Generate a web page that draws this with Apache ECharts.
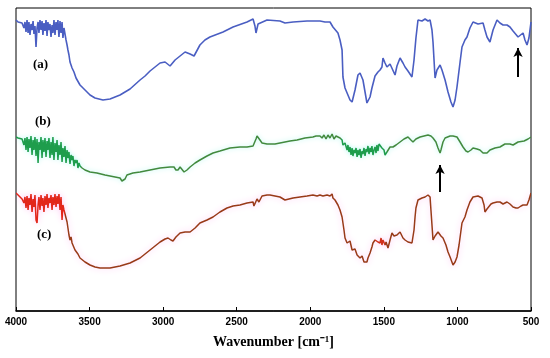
<!DOCTYPE html>
<html>
<head>
<meta charset="utf-8">
<script src="https://cdn.jsdelivr.net/npm/echarts@6/dist/echarts.min.js"></script>
<style>html,body{margin:0;padding:0;background:#fff}#c{width:550px;height:358px}</style>
</head>
<body>
<div id="c"></div>
<script>
// Wavenumber (cm-1) and offset transmittance (a.u.)
var wnA = [4000,3986,3973,3959,3946,3939,3932,3925,3918,3912,3905,3898,3891,3884,3878,3871,3864,3857,3850,3844,3837,3830,3823,3817,3810,3803,3796,3789,3783,3776,3769,3762,3755,3749,3742,3735,3728,3721,3715,3708,3701,3694,3687,3681,3674,3667,3660,3653,3647,3640,3633,3626,3619,3606,3592,3579,3565,3531,3497,3463,3409,3361,3293,3225,3157,3123,3089,3055,3021,2987,2953,2919,2885,2851,2817,2790,2777,2750,2716,2682,2593,2525,2430,2389,2376,2369,2355,2342,2294,2206,2172,2117,2022,1934,1900,1866,1846,1812,1798,1784,1778,1764,1730,1716,1696,1676,1662,1642,1615,1608,1594,1581,1560,1540,1526,1513,1506,1492,1479,1458,1445,1424,1411,1390,1370,1356,1336,1309,1295,1282,1268,1241,1220,1200,1186,1173,1166,1152,1139,1118,1105,1084,1064,1044,1030,1016,1003,982,969,949,935,915,894,881,860,847,826,813,799,779,758,731,711,690,663,643,622,609,588,575,554,541,527,514,500];
var tA = [291,289,287,288,283,289,279,291,278,289,276,287,281,290,277,285,264,283,289,278,291,281,290,276,288,280,291,275,289,281,287,274,286,278,291,276,289,281,291,274,290,278,289,273,283,281,271,266,261,256,249,251,243,239,233,231,226,221,216,213,211,212,216,222,231,235,240,244,248,249,245,251,255,259,257,255,254,266,271,274,279,284,289,292,285,278,287,289,291,290,288,289,290,290,289,289,284,278,271,261,234,223,211,209,221,236,238,231,208,206,214,223,235,239,241,244,253,248,244,247,249,236,245,253,248,244,240,234,251,273,291,290,292,290,291,281,269,233,241,246,241,231,219,209,204,211,224,249,264,271,274,283,289,291,287,286,288,281,274,269,281,291,288,286,286,284,280,278,274,274,278,271,266,273,289];

var wnB = [4000,3986,3973,3959,3946,3939,3932,3925,3918,3912,3905,3898,3891,3884,3878,3871,3864,3857,3850,3844,3837,3830,3823,3817,3810,3803,3796,3789,3783,3776,3769,3762,3755,3749,3742,3735,3728,3721,3715,3708,3701,3694,3687,3681,3674,3667,3660,3653,3647,3640,3633,3626,3619,3613,3606,3599,3592,3585,3579,3572,3565,3551,3531,3497,3450,3395,3361,3327,3293,3280,3273,3259,3246,3205,3157,3089,3021,2953,2926,2913,2899,2885,2872,2858,2851,2838,2817,2783,2750,2702,2661,2614,2546,2478,2430,2389,2376,2369,2362,2349,2342,2328,2315,2294,2240,2206,2138,2090,2036,1982,1961,1948,1934,1920,1907,1893,1880,1866,1852,1839,1825,1812,1798,1784,1778,1764,1750,1744,1737,1730,1723,1716,1710,1703,1696,1689,1682,1676,1669,1662,1655,1648,1642,1635,1628,1621,1615,1608,1601,1594,1587,1581,1574,1567,1560,1553,1547,1540,1533,1526,1513,1499,1492,1485,1479,1472,1458,1438,1417,1390,1363,1336,1316,1302,1282,1254,1227,1200,1180,1166,1146,1132,1118,1112,1098,1084,1071,1050,1030,1003,982,962,942,928,908,894,867,847,826,813,799,779,745,711,677,643,622,588,547,520,500];
var tB = [174,173,171,172,166,173,161,174,159,172,163,175,156,171,161,174,155,172,148,169,161,174,153,171,159,173,154,170,161,173,153,169,156,174,151,168,159,171,151,166,156,169,149,163,154,165,148,161,153,159,147,156,151,155,145,151,148,151,143,148,145,143,141,139,138,136,135,134,133,130,129,132,136,138,139,141,143,144,144,141,141,144,144,139,137,141,144,148,151,155,158,160,163,164,164,165,167,172,175,174,171,168,168,167,167,168,170,171,173,174,175,173,175,173,176,172,176,173,177,172,175,174,173,171,166,168,161,166,159,164,156,163,155,161,158,163,154,161,156,162,153,160,157,163,155,162,159,165,157,163,159,165,156,161,164,158,166,160,167,165,163,161,156,154,159,161,164,164,166,169,172,174,171,169,172,174,175,176,175,173,169,163,158,161,169,173,174,175,175,174,169,164,160,159,161,163,162,161,158,156,158,161,163,164,167,167,166,169,170,172,174];

var wnC = [4000,3986,3973,3959,3946,3939,3932,3925,3918,3912,3905,3898,3891,3884,3878,3871,3864,3857,3850,3844,3837,3830,3823,3817,3810,3803,3796,3789,3783,3776,3769,3762,3755,3749,3742,3735,3728,3721,3715,3708,3701,3694,3687,3681,3674,3667,3660,3653,3647,3640,3633,3626,3619,3613,3606,3599,3592,3579,3565,3531,3497,3463,3429,3361,3293,3225,3157,3089,3021,2987,2967,2947,2933,2913,2885,2851,2817,2783,2750,2702,2661,2614,2566,2525,2478,2430,2389,2383,2376,2362,2355,2349,2342,2328,2321,2294,2274,2240,2206,2172,2145,2117,2070,2022,1982,1954,1934,1914,1886,1866,1852,1846,1832,1812,1798,1784,1771,1764,1750,1744,1730,1716,1710,1696,1682,1662,1648,1635,1628,1615,1608,1594,1581,1574,1560,1547,1540,1526,1519,1513,1506,1492,1485,1472,1458,1445,1431,1411,1390,1370,1356,1336,1309,1295,1288,1282,1268,1241,1220,1200,1186,1180,1173,1166,1152,1132,1112,1098,1078,1064,1050,1030,1016,1003,989,969,949,935,915,894,881,860,833,819,813,799,792,772,758,731,711,690,677,663,643,622,602,588,568,554,527,514,500];
var tC = [118,116,114,112,108,114,103,115,101,113,106,117,99,112,104,116,91,88,106,114,101,116,105,113,99,115,106,117,103,113,108,116,101,114,106,117,104,115,107,117,101,114,91,106,101,103,93,89,83,76,71,74,68,66,68,61,63,57,53,49,46,44,43,43,45,48,53,61,69,72,73,71,70,74,78,79,79,83,88,91,94,99,103,105,106,108,109,105,106,112,114,109,108,115,117,116,116,115,114,111,112,113,114,115,116,115,116,115,116,115,117,113,111,106,101,94,81,73,68,66,70,61,59,62,56,53,55,49,48,49,53,58,64,68,71,73,69,68,73,66,71,66,69,63,71,78,75,76,79,73,71,69,68,81,94,103,111,113,114,116,114,101,86,71,75,79,75,73,66,59,54,46,49,54,66,88,94,101,109,114,116,115,113,106,99,102,104,107,108,109,109,107,109,109,107,104,103,103,105,106,106,111,118];

var xTicks = [4000,3500,3000,2500,2000,1500,1000,500];
var curveLabels = ['(a)','(b)','(c)'];

function pairs(x, y){ return x.map(function(v,i){ return [v, y[i]]; }); }

var chart = echarts.init(document.getElementById('c'), null, {renderer:'canvas'});
chart.setOption({
  animation:false,
  backgroundColor:'#fff',
  grid:{left:16,right:19,top:8,bottom:47,show:true,borderColor:'#000',borderWidth:1},
  xAxis:{
    type:'value', min:500, max:4000, interval:500, inverse:true,
    name:'Wavenumber [cm\u207B\u00B9]', nameLocation:'middle', nameGap:24,
    nameTextStyle:{fontFamily:'Liberation Serif',fontWeight:'bold',fontSize:14,color:'#000'},
    axisLine:{lineStyle:{color:'#000',width:1.5}},
    axisTick:{inside:true,length:4,lineStyle:{color:'#000'}},
    axisLabel:{fontFamily:'Liberation Sans',fontWeight:'bold',fontSize:10,color:'#000',margin:6,
      formatter:function(v){ return xTicks.indexOf(v) >= 0 ? String(v) : ''; }},
    splitLine:{show:false}
  },
  yAxis:{type:'value',min:0,max:303,show:false,splitLine:{show:false}},
  visualMap:[
    {type:'piecewise',show:false,seriesIndex:1,dimension:0,
     pieces:[{gte:3560,lte:4000,color:'#1e9d4c'},{gte:1790,lt:3560,color:'#428a3e'},
             {gte:1480,lt:1790,color:'#1e9d4c'},{gte:500,lt:1480,color:'#428a3e'}]},
    {type:'piecewise',show:false,seriesIndex:2,dimension:0,
     pieces:[{gte:3665,lte:4000,color:'#e2261a'},{gte:1560,lt:3665,color:'#983a18'},
             {gte:1490,lt:1560,color:'#d0301c'},{gte:500,lt:1490,color:'#983a18'}]}
  ],
  series:[
    {type:'line',data:pairs(wnA,tA),showSymbol:false,color:'#4a5ec2',
     lineStyle:{color:'#4a5ec2',width:1.6},
     markLine:{silent:true,symbol:['none','arrow'],symbolSize:[7,9],
       lineStyle:{color:'#000',width:2,type:'solid'},label:{show:false},
       data:[[{coord:[588,234]},{coord:[588,263]}]]}},
    {type:'line',data:pairs(wnB,tB),showSymbol:false,
     lineStyle:{width:1.5,shadowColor:'rgba(0,230,200,0.3)',shadowBlur:5},
     markLine:{silent:true,symbol:['none','arrow'],symbolSize:[7,9],
       lineStyle:{color:'#000',width:2,type:'solid'},label:{show:false},
       data:[[{coord:[1118,119]},{coord:[1118,146]}]]}},
    {type:'line',data:pairs(wnC,tC),showSymbol:false,
     lineStyle:{width:1.5,shadowColor:'rgba(255,80,220,0.35)',shadowBlur:6}}
  ],
  graphic:[
    {type:'text',left:33,top:58,style:{text:curveLabels[0],font:'bold 13px "Liberation Serif"',fill:'#000'}},
    {type:'text',left:35,top:115,style:{text:curveLabels[1],font:'bold 13px "Liberation Serif"',fill:'#000'}},
    {type:'text',left:37,top:228,style:{text:curveLabels[2],font:'bold 13px "Liberation Serif"',fill:'#000'}}
  ]
});
</script>
</body>
</html>
